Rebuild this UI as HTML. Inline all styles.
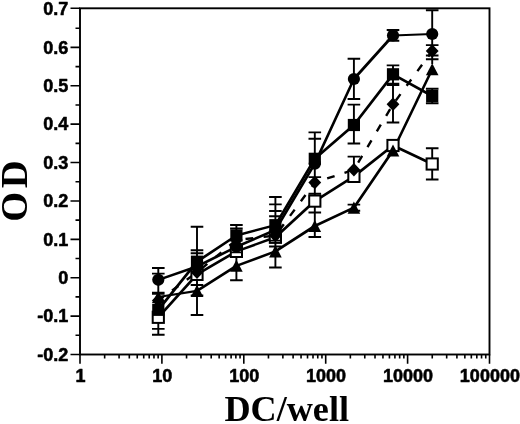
<!DOCTYPE html>
<html><head><meta charset="utf-8"><title>OD vs DC/well</title>
<style>html,body{margin:0;padding:0;background:#fff}body{width:520px;height:424px;overflow:hidden}svg{display:block}</style>
</head><body>
<svg width="520" height="424" viewBox="0 0 520 424">
<rect width="520" height="424" fill="#fff"/>
<rect x="80.0" y="8.3" width="409.5" height="346.2" fill="none" stroke="#000" stroke-width="1.9"/>
<path d="M70.5 8.30H80.0 M75.5 28.19H80.0 M70.5 47.39H80.0 M75.5 66.58H80.0 M70.5 85.78H80.0 M75.5 104.97H80.0 M70.5 124.17H80.0 M75.5 143.36H80.0 M70.5 162.56H80.0 M75.5 181.75H80.0 M70.5 200.94H80.0 M75.5 220.14H80.0 M70.5 239.33H80.0 M75.5 258.53H80.0 M70.5 277.72H80.0 M75.5 296.92H80.0 M70.5 316.11H80.0 M75.5 335.31H80.0 M70.5 354.50H80.0 M80.00 354.5V363.8 M104.65 354.5V358.5 M119.08 354.5V358.5 M129.31 354.5V358.5 M137.25 354.5V358.5 M143.73 354.5V358.5 M149.21 354.5V358.5 M153.96 354.5V358.5 M158.15 354.5V358.5 M161.90 354.5V363.8 M186.55 354.5V358.5 M200.98 354.5V358.5 M211.21 354.5V358.5 M219.15 354.5V358.5 M225.63 354.5V358.5 M231.11 354.5V358.5 M235.86 354.5V358.5 M240.05 354.5V358.5 M243.80 354.5V363.8 M268.45 354.5V358.5 M282.88 354.5V358.5 M293.11 354.5V358.5 M301.05 354.5V358.5 M307.53 354.5V358.5 M313.01 354.5V358.5 M317.76 354.5V358.5 M321.95 354.5V358.5 M325.70 354.5V363.8 M350.35 354.5V358.5 M364.78 354.5V358.5 M375.01 354.5V358.5 M382.95 354.5V358.5 M389.43 354.5V358.5 M394.91 354.5V358.5 M399.66 354.5V358.5 M403.85 354.5V358.5 M407.60 354.5V363.8 M432.25 354.5V358.5 M446.68 354.5V358.5 M456.91 354.5V358.5 M464.85 354.5V358.5 M471.33 354.5V358.5 M476.81 354.5V358.5 M481.56 354.5V358.5 M485.75 354.5V358.5 M489.50 354.5V363.8" stroke="#000" stroke-width="1.6" fill="none"/>
<g font-family="'Liberation Sans', Arial, Helvetica, sans-serif" font-weight="bold" font-size="18px" fill="#000" stroke="#000" stroke-width="0.55" stroke-linejoin="round">
<text x="68.3" y="15.30" text-anchor="end">0.7</text>
<text x="68.3" y="53.69" text-anchor="end">0.6</text>
<text x="68.3" y="92.08" text-anchor="end">0.5</text>
<text x="68.3" y="130.47" text-anchor="end">0.4</text>
<text x="68.3" y="168.86" text-anchor="end">0.3</text>
<text x="68.3" y="207.24" text-anchor="end">0.2</text>
<text x="68.3" y="245.63" text-anchor="end">0.1</text>
<text x="68.3" y="284.02" text-anchor="end">0</text>
<text x="68.3" y="322.41" text-anchor="end">-0.1</text>
<text x="68.3" y="360.80" text-anchor="end">-0.2</text>
<text x="80.40" y="382.0" text-anchor="middle">1</text>
<text x="162.30" y="382.0" text-anchor="middle">10</text>
<text x="244.20" y="382.0" text-anchor="middle">100</text>
<text x="326.10" y="382.0" text-anchor="middle">1000</text>
<text x="408.00" y="382.0" text-anchor="middle">10000</text>
<text x="489.90" y="382.0" text-anchor="middle">100000</text>
</g>
<g font-family="'Liberation Serif', 'Times New Roman', Times, serif" font-weight="bold" font-size="36.2px" fill="#000">
<text x="286.7" y="421.3" text-anchor="middle">DC/well</text>
<text transform="translate(26.5 189.3) rotate(-90)" text-anchor="middle" letter-spacing="3.4" font-size="38.6px">OD</text>
</g>
<path d="M152.0 268.0h12.6 M152.0 273.6h12.6 M152.0 292.6h12.6 M152.0 293.8h12.6 M152.0 328.9h12.6 M152.0 334.8h12.6 M158.3 268.0V334.8 M190.7 226.7h12.6 M190.7 250.3h12.6 M190.7 253.2h12.6 M190.7 285.0h12.6 M190.7 295.5h12.6 M190.7 315.0h12.6 M197.0 226.7V315.0 M230.1 225.0h12.6 M230.1 228.5h12.6 M230.1 252.6h12.6 M230.1 280.3h12.6 M236.4 225.0V280.3 M269.1 197.0h12.6 M269.1 204.4h12.6 M269.1 211.0h12.6 M269.1 216.3h12.6 M269.1 240.6h12.6 M269.1 246.5h12.6 M269.1 267.5h12.6 M275.4 197.0V267.5 M308.5 132.4h12.6 M308.5 138.8h12.6 M308.5 177.1h12.6 M308.5 193.8h12.6 M308.5 212.5h12.6 M308.5 237.0h12.6 M314.8 132.4V237.0 M347.6 58.8h12.6 M347.6 99.0h12.6 M347.6 104.6h12.6 M347.6 143.5h12.6 M347.6 156.6h12.6 M347.6 204.6h12.6 M347.6 210.8h12.6 M353.9 58.8V99.0 M353.9 104.6V143.5 M353.9 156.6V183.0 M353.9 204.6V210.8 M386.7 30.0h12.6 M386.7 40.7h12.6 M386.7 65.4h12.6 M386.7 83.8h12.6 M386.7 85.0h12.6 M386.7 122.5h12.6 M393.0 30.0V40.7 M393.0 65.4V122.5 M425.9 10.3h12.6 M425.9 45.1h12.6 M425.9 55.5h12.6 M425.9 59.3h12.6 M425.9 88.8h12.6 M425.9 103.2h12.6 M425.9 148.2h12.6 M425.9 179.5h12.6 M432.2 10.3V64.0 M432.2 88.8V103.2 M432.2 148.2V179.5" stroke="#000" stroke-width="1.9" fill="none"/>
<line x1="158.3" y1="279.8" x2="197.0" y2="266.5" stroke="#000" stroke-width="2.48" stroke-linecap="round"/>
<line x1="197.0" y1="266.5" x2="236.4" y2="246.8" stroke="#000" stroke-width="2.62" stroke-linecap="round"/>
<line x1="236.4" y1="246.8" x2="275.4" y2="230.0" stroke="#000" stroke-width="2.56" stroke-linecap="round"/>
<line x1="275.4" y1="230.0" x2="314.8" y2="163.6" stroke="#000" stroke-width="2.67" stroke-linecap="round"/>
<line x1="314.8" y1="163.6" x2="353.9" y2="79.0" stroke="#000" stroke-width="2.59" stroke-linecap="round"/>
<line x1="353.9" y1="79.0" x2="393.0" y2="35.5" stroke="#000" stroke-width="2.75" stroke-linecap="round"/>
<line x1="393.0" y1="35.5" x2="432.2" y2="34.0" stroke="#000" stroke-width="2.02" stroke-linecap="round"/>
<line x1="158.3" y1="309.8" x2="197.0" y2="261.7" stroke="#000" stroke-width="2.74" stroke-linecap="round"/>
<line x1="197.0" y1="261.7" x2="236.4" y2="235.5" stroke="#000" stroke-width="2.70" stroke-linecap="round"/>
<line x1="236.4" y1="235.5" x2="275.4" y2="225.2" stroke="#000" stroke-width="2.38" stroke-linecap="round"/>
<line x1="275.4" y1="225.2" x2="314.8" y2="158.8" stroke="#000" stroke-width="2.67" stroke-linecap="round"/>
<line x1="314.8" y1="158.8" x2="353.9" y2="125.0" stroke="#000" stroke-width="2.75" stroke-linecap="round"/>
<line x1="353.9" y1="125.0" x2="393.0" y2="74.3" stroke="#000" stroke-width="2.73" stroke-linecap="round"/>
<line x1="393.0" y1="74.3" x2="432.2" y2="96.0" stroke="#000" stroke-width="2.65" stroke-linecap="round"/>
<polyline points="158.3,300.6 197.0,272.3 236.4,240.0 275.4,235.6 314.8,182.5 353.9,169.8 393.0,104.3 432.2,51.0" fill="none" stroke="#000" stroke-width="2.4" stroke-linejoin="round" stroke-dasharray="7.8 10.4" stroke-dashoffset="1.13"/>
<line x1="158.3" y1="317.3" x2="197.0" y2="274.4" stroke="#000" stroke-width="2.75" stroke-linecap="round"/>
<line x1="197.0" y1="274.4" x2="236.4" y2="251.4" stroke="#000" stroke-width="2.67" stroke-linecap="round"/>
<line x1="236.4" y1="251.4" x2="275.4" y2="237.3" stroke="#000" stroke-width="2.50" stroke-linecap="round"/>
<line x1="275.4" y1="237.3" x2="314.8" y2="201.1" stroke="#000" stroke-width="2.76" stroke-linecap="round"/>
<line x1="314.8" y1="201.1" x2="353.9" y2="176.4" stroke="#000" stroke-width="2.69" stroke-linecap="round"/>
<line x1="353.9" y1="176.4" x2="393.0" y2="145.5" stroke="#000" stroke-width="2.74" stroke-linecap="round"/>
<line x1="393.0" y1="145.5" x2="432.2" y2="164.0" stroke="#000" stroke-width="2.60" stroke-linecap="round"/>
<line x1="158.3" y1="297.0" x2="197.0" y2="290.9" stroke="#000" stroke-width="2.23" stroke-linecap="round"/>
<line x1="197.0" y1="290.9" x2="236.4" y2="265.8" stroke="#000" stroke-width="2.69" stroke-linecap="round"/>
<line x1="236.4" y1="265.8" x2="275.4" y2="251.4" stroke="#000" stroke-width="2.50" stroke-linecap="round"/>
<line x1="275.4" y1="251.4" x2="314.8" y2="226.0" stroke="#000" stroke-width="2.70" stroke-linecap="round"/>
<line x1="314.8" y1="226.0" x2="353.9" y2="207.7" stroke="#000" stroke-width="2.59" stroke-linecap="round"/>
<line x1="353.9" y1="207.7" x2="393.0" y2="150.5" stroke="#000" stroke-width="2.71" stroke-linecap="round"/>
<line x1="393.0" y1="150.5" x2="432.2" y2="69.3" stroke="#000" stroke-width="2.60" stroke-linecap="round"/>
<rect x="152.7" y="311.7" width="11.2" height="11.2" fill="#fff" stroke="#000" stroke-width="2"/>
<rect x="191.4" y="268.8" width="11.2" height="11.2" fill="#fff" stroke="#000" stroke-width="2"/>
<rect x="230.8" y="245.8" width="11.2" height="11.2" fill="#fff" stroke="#000" stroke-width="2"/>
<rect x="269.8" y="231.7" width="11.2" height="11.2" fill="#fff" stroke="#000" stroke-width="2"/>
<rect x="309.2" y="195.5" width="11.2" height="11.2" fill="#fff" stroke="#000" stroke-width="2"/>
<rect x="348.3" y="170.8" width="11.2" height="11.2" fill="#fff" stroke="#000" stroke-width="2"/>
<rect x="387.4" y="139.9" width="11.2" height="11.2" fill="#fff" stroke="#000" stroke-width="2"/>
<rect x="426.6" y="158.4" width="11.2" height="11.2" fill="#fff" stroke="#000" stroke-width="2"/>
<path d="M230.1 252.4h12.6 M269.1 240.6h12.6" stroke="#000" stroke-width="1.9" fill="none"/>
<path d="M158.3 290.9l6.3 12.1h-12.6z"/>
<path d="M197.0 284.8l6.3 12.1h-12.6z"/>
<path d="M236.4 259.7l6.3 12.1h-12.6z"/>
<path d="M275.4 245.3l6.3 12.1h-12.6z"/>
<path d="M314.8 219.9l6.3 12.1h-12.6z"/>
<path d="M353.9 201.6l6.3 12.1h-12.6z"/>
<path d="M393.0 144.4l6.3 12.1h-12.6z"/>
<path d="M432.2 63.2l6.3 12.1h-12.6z"/>
<path d="M158.3 293.8l6.4 6.8l-6.4 6.8l-6.4 -6.8z"/>
<path d="M197.0 265.5l6.4 6.8l-6.4 6.8l-6.4 -6.8z"/>
<path d="M236.4 233.2l6.4 6.8l-6.4 6.8l-6.4 -6.8z"/>
<path d="M275.4 228.8l6.4 6.8l-6.4 6.8l-6.4 -6.8z"/>
<path d="M314.8 175.7l6.4 6.8l-6.4 6.8l-6.4 -6.8z"/>
<path d="M353.9 163.0l6.4 6.8l-6.4 6.8l-6.4 -6.8z"/>
<path d="M393.0 97.5l6.4 6.8l-6.4 6.8l-6.4 -6.8z"/>
<path d="M432.2 44.2l6.4 6.8l-6.4 6.8l-6.4 -6.8z"/>
<rect x="152.2" y="303.7" width="12.2" height="12.2"/>
<rect x="190.9" y="255.6" width="12.2" height="12.2"/>
<rect x="230.3" y="229.4" width="12.2" height="12.2"/>
<rect x="269.3" y="219.1" width="12.2" height="12.2"/>
<rect x="308.7" y="152.7" width="12.2" height="12.2"/>
<rect x="347.8" y="118.9" width="12.2" height="12.2"/>
<rect x="386.9" y="68.2" width="12.2" height="12.2"/>
<rect x="426.1" y="89.9" width="12.2" height="12.2"/>
<circle cx="158.3" cy="279.8" r="6.1"/>
<circle cx="197.0" cy="266.5" r="6.1"/>
<circle cx="236.4" cy="246.8" r="6.1"/>
<circle cx="275.4" cy="230.0" r="6.1"/>
<circle cx="314.8" cy="163.6" r="6.1"/>
<circle cx="353.9" cy="79.0" r="6.1"/>
<circle cx="393.0" cy="35.5" r="6.1"/>
<circle cx="432.2" cy="34.0" r="6.1"/>
</svg>
</body></html>
